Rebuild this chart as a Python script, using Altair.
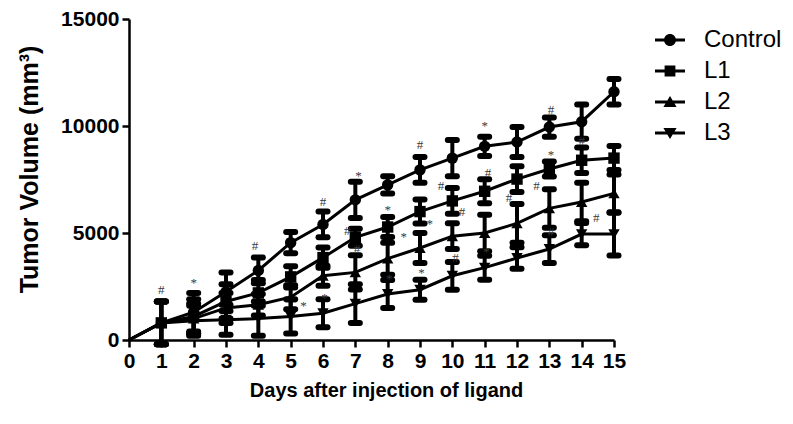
import altair as alt
import pandas as pd

days = list(range(1, 16))
groups = ["Control", "L1", "L2", "L3"]

control = [800, 1300, 2250, 3250, 4550, 5400, 6550, 7250, 7950, 8500, 9050, 9250, 9950, 10200, 11600]
control_sd = [1000, 900, 900, 600, 500, 600, 850, 400, 600, 850, 450, 700, 450, 800, 600]
l1 = [800, 1100, 1800, 2200, 2950, 3850, 4800, 5280, 6000, 6500, 6950, 7520, 7990, 8400, 8500]
l1_sd = [1000, 800, 800, 600, 500, 470, 400, 470, 560, 600, 560, 600, 350, 600, 560]
l2 = [800, 1000, 1500, 1650, 2000, 3000, 3160, 3800, 4300, 4850, 5000, 5450, 6150, 6450, 6850]
l2_sd = [1000, 700, 700, 500, 560, 470, 800, 750, 700, 600, 850, 900, 900, 900, 880]
l3 = [800, 900, 950, 1000, 1100, 1250, 1700, 2150, 2350, 3000, 3380, 3830, 4250, 4950, 4950]
l3_sd = [1000, 700, 700, 800, 800, 650, 900, 650, 470, 650, 560, 500, 650, 520, 1000]

# significance marks (day position, volume position, symbol)
ann_day = [1, 2, 3.9, 5.4, 6.05, 6, 7.1, 6.75, 7.05, 8, 8.5, 8.05, 9, 9.3, 9.65, 9.05,
           11, 10.3, 11.1, 10.1, 11.05, 11.75, 13.05, 13.05, 12.6, 14, 14.45, 13.05]
ann_val = [2320, 2650, 4410, 1580, 1950, 6450, 7660, 5110, 4230, 6080, 4830, 2830, 9100, 5430, 7200, 3110,
           9980, 5990, 7800, 3850, 4090, 6640, 10770, 8640, 7200, 9290, 5710, 5060]
ann_sym = ["#", "*", "#", "*", "*", "#", "*", "#", "#", "*", "*", "*", "#", "*", "#", "*",
           "*", "#", "#", "#", "*", "#", "#", "*", "#", "#", "#", "#"]

x_ticks = list(range(0, 16))
y_ticks = [0, 5000, 10000, 15000]

series = {"Control": (control, control_sd), "L1": (l1, l1_sd), "L2": (l2, l2_sd), "L3": (l3, l3_sd)}
rows = []
line_rows = []
for g, (vals, sds) in series.items():
    line_rows.append({"day": 0, "vol": 0, "group": g})
    for d, v, s in zip(days, vals, sds):
        rows.append({"day": d, "vol": v, "lo": v - s, "hi": v + s, "group": g})
        line_rows.append({"day": d, "vol": v, "group": g})
df = pd.DataFrame(rows)
dfl = pd.DataFrame(line_rows)
dfa = pd.DataFrame({"day": ann_day, "vol": ann_val, "sym": ann_sym})

axis_style = dict(
    grid=False, domainColor="black", domainWidth=2.5, tickColor="black", tickWidth=2.5,
    tickSize=7, labelFont="Liberation Sans", labelFontWeight="bold", labelFontSize=21,
    labelColor="black", titleFont="Liberation Sans", titleFontWeight="bold",
    titleColor="black", labelPadding=3, labelOverlap=False, labelFlush=False, format="d",
)

xsc = alt.Scale(domain=[0, 15], nice=False, zero=False)
ysc = alt.Scale(domain=[0, 15000], nice=False, zero=False)
xax = alt.Axis(values=x_ticks, tickCount=16, title="Days after injection of ligand",
               titlePadding=9, titleFontSize=20, titleX=257, **axis_style)
yax = alt.Axis(values=y_ticks, title="Tumor Volume (mm³)", titleFontSize=25,
               titlePadding=18, titleY=150, **axis_style)


def X(field="day"):
    return alt.X(f"{field}:Q", scale=xsc, axis=xax)


def Y(field="vol"):
    return alt.Y(f"{field}:Q", scale=ysc, axis=yax)


lines = alt.Chart(dfl).mark_line(color="black", strokeWidth=3).encode(
    x=X(), y=Y(), detail="group:N")

bars = alt.Chart(df).mark_rule(color="black", strokeWidth=4).encode(
    x=X(), y=Y("lo"), y2="hi:Q")
cap_hi = alt.Chart(df).mark_rule(color="black", strokeWidth=6, strokeCap="round",
                                 xOffset=-4.5, x2Offset=4.5).encode(
    x=X(), x2="day:Q", y=Y("hi"))
cap_lo = alt.Chart(df).mark_rule(color="black", strokeWidth=6, strokeCap="round",
                                 xOffset=-4.5, x2Offset=4.5).encode(
    x=X(), x2="day:Q", y=Y("lo"))

points = alt.Chart(df).mark_point(filled=True, color="black", opacity=1, size=130).encode(
    x=X(), y=Y(),
    shape=alt.Shape("group:N", scale=alt.Scale(domain=groups,
                    range=["circle", "square", "triangle-up", "triangle-down"]), legend=None))

bar_path = "M-1,-0.1H1V0.1H-1Z"
leg_paths = [
    bar_path + "M0.4,0A0.4,0.4 0 1,1 -0.4,0A0.4,0.4 0 1,1 0.4,0Z",
    bar_path + "M-0.36,-0.36H0.36V0.36H-0.36Z",
    bar_path + "M0,-0.4L0.44,0.33L-0.44,0.33Z",
    bar_path + "M0,0.4L-0.44,-0.33L0.44,-0.33Z",
]
legend_layer = alt.Chart(df).mark_point(filled=True, color="black", opacity=0).encode(
    x=X(), y=Y(),
    shape=alt.Shape("group:N", scale=alt.Scale(domain=groups, range=leg_paths),
                    legend=alt.Legend(title=None, orient="none", legendX=526, legendY=6,
                                      symbolSize=900, symbolOpacity=1, symbolFillColor="black",
                                      symbolStrokeWidth=0, labelFont="Liberation Sans",
                                      labelFontSize=24, labelColor="black", labelOffset=19,
                                      rowPadding=4, labelLimit=200)))

ann = alt.Chart(dfa).mark_text(font="Liberation Serif", fontSize=13, color="#3a3a3a",
                               baseline="middle").encode(
    x=X(), y=Y(), text="sym:N")

chart = alt.layer(lines, bars, cap_hi, cap_lo, points, legend_layer, ann).resolve_scale(
    shape="independent"
).properties(
    width=485, height=321,
    autosize=alt.AutoSizeParams(type="none"),
    padding={"left": 121, "top": 11, "right": 171, "bottom": 76},
).configure_view(stroke=None)

chart.save("out.html", embed_options={"renderer": "svg", "actions": False})
